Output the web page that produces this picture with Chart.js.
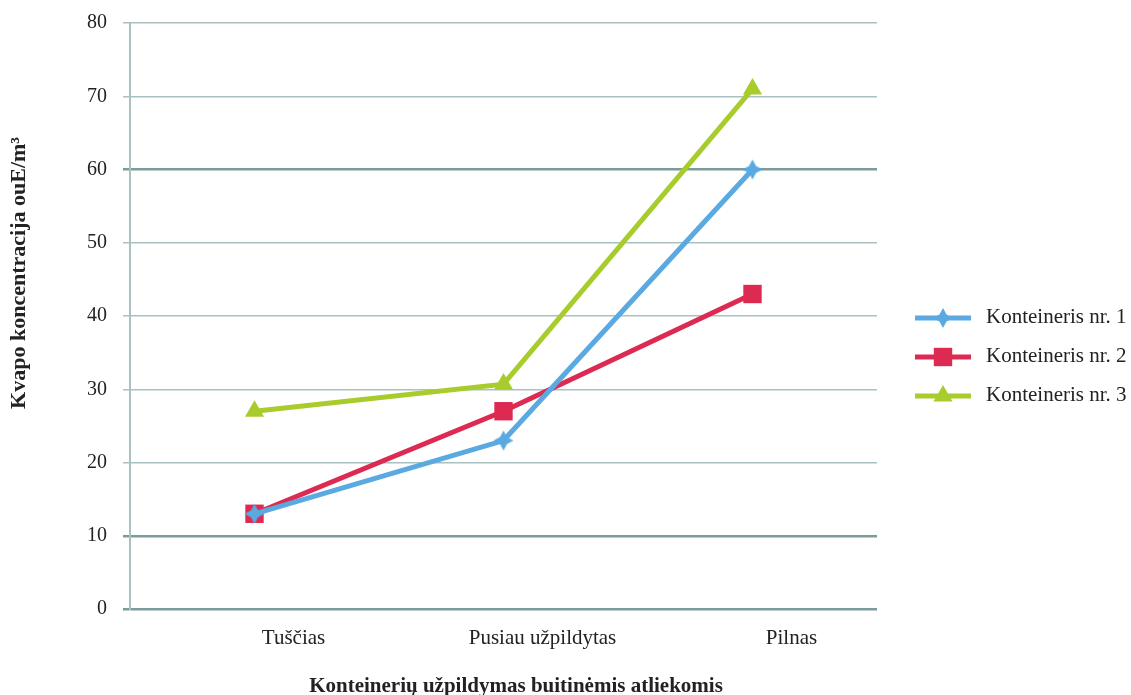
<!DOCTYPE html>
<html>
<head>
<meta charset="utf-8">
<script src="https://cdn.jsdelivr.net/npm/chart.js@4/dist/chart.umd.min.js"></script>
<style>
  html, body { margin: 0; padding: 0; background: #ffffff; }
  #wrap { width: 1131px; height: 695px; position: relative; }
</style>
</head>
<body>
<div id="wrap"><canvas id="c" width="1131" height="695"></canvas></div>
<script>
// Container fill level categories
const categories = ['Tuščias', 'Pusiau užpildytas', 'Pilnas'];

// Odour concentration (ouE/m³) per container
const konteineris1 = [13, 23, 60];
const konteineris2 = [13, 27, 43];
const konteineris3 = [27, 30.7, 71];

const seriesNames = ['Konteineris nr. 1', 'Konteineris nr. 2', 'Konteineris nr. 3'];
const yTicks = [0, 10, 20, 30, 40, 50, 60, 70, 80];

const xTitle = 'Konteinerių užpildymas buitinėmis atliekomis';
const yTitle = 'Kvapo koncentracija ouE/m³';

const BLUE = '#5aa9e1';
const RED = '#dd2a52';
const GREEN = '#a7cc2c';
const TEXT = '#222222';
const FONT = '"Liberation Serif", "Times New Roman", serif';

// four-pointed star marker for the first series
function starMarker(color, r, inner) {
  const c = document.createElement('canvas');
  const s = Math.ceil(r * 2 + 2);
  c.width = s; c.height = s;
  const g = c.getContext('2d');
  const cx = s / 2, cy = s / 2;
  g.fillStyle = color;
  g.beginPath();
  for (let i = 0; i < 8; i++) {
    const a = -Math.PI / 2 + i * Math.PI / 4;
    const rr = i % 2 === 0 ? r : inner;
    const x = cx + Math.cos(a) * rr, y = cy + Math.sin(a) * rr;
    if (i === 0) g.moveTo(x, y); else g.lineTo(x, y);
  }
  g.closePath();
  g.fill();
  return c;
}
const blueStar = starMarker(BLUE, 10, 5);

const darkGrid = '#7c9c9b';
const lightGrid = '#a9c1c0';

// axis titles placed freely around the plot
const axisTitles = {
  id: 'axisTitles',
  afterDraw(chart) {
    const ctx = chart.ctx;
    ctx.save();
    ctx.fillStyle = TEXT;
    ctx.font = 'bold 21px ' + FONT;
    ctx.textAlign = 'center';
    ctx.textBaseline = 'middle';
    ctx.fillText(xTitle, 516, 687);
    ctx.translate(19, 273);
    ctx.rotate(-Math.PI / 2);
    ctx.font = 'bold 22px ' + FONT;
    ctx.fillText(yTitle, 0, 0);
    ctx.restore();
  }
};

// legend drawn as line + marker, like the series
const sideLegend = {
  id: 'sideLegend',
  afterDraw(chart) {
    const ctx = chart.ctx;
    const x0 = 915, x1 = 971, tx = 986;
    const ys = [318, 357, 396];
    chart.data.datasets.forEach((ds, i) => {
      const y = ys[i];
      ctx.save();
      ctx.strokeStyle = ds.borderColor;
      ctx.lineWidth = 5;
      ctx.lineCap = 'butt';
      ctx.beginPath();
      ctx.moveTo(x0, y);
      ctx.lineTo(x1, y);
      ctx.stroke();
      ctx.fillStyle = ds.pointBackgroundColor;
      ctx.strokeStyle = ds.pointBorderColor;
      Chart.helpers.drawPoint(ctx, {
        pointStyle: ds.pointStyle,
        radius: ds.pointRadius,
        rotation: 0,
        borderWidth: 0
      }, (x0 + x1) / 2, y);
      ctx.fillStyle = TEXT;
      ctx.font = '21px ' + FONT;
      ctx.textBaseline = 'middle';
      ctx.textAlign = 'left';
      ctx.fillText(seriesNames[i], tx, y - 1);
      ctx.restore();
    });
  }
};

new Chart(document.getElementById('c'), {
  type: 'line',
  data: {
    labels: categories,
    datasets: [
      {
        label: seriesNames[0],
        data: konteineris1,
        borderColor: BLUE,
        borderWidth: 5,
        pointStyle: blueStar,
        pointRadius: 10,
        pointBackgroundColor: BLUE,
        pointBorderColor: BLUE,
        pointBorderWidth: 0,
        tension: 0
      },
      {
        label: seriesNames[1],
        data: konteineris2,
        borderColor: RED,
        borderWidth: 5,
        pointStyle: 'rect',
        pointRadius: 13,
        pointBackgroundColor: RED,
        pointBorderColor: RED,
        pointBorderWidth: 0,
        tension: 0
      },
      {
        label: seriesNames[2],
        data: konteineris3,
        borderColor: GREEN,
        borderWidth: 5,
        pointStyle: 'triangle',
        pointRadius: 11,
        pointBackgroundColor: GREEN,
        pointBorderColor: GREEN,
        pointBorderWidth: 0,
        tension: 0
      }
    ]
  },
  options: {
    responsive: false,
    animation: false,
    devicePixelRatio: 1,
    layout: { padding: { top: 23, right: 254, bottom: 0, left: 0 } },
    plugins: {
      legend: { display: false },
      tooltip: { enabled: false }
    },
    scales: {
      x: {
        offset: true,
        grid: { display: false },
        border: { display: false },
        ticks: {
          color: TEXT,
          font: { family: FONT, size: 21 },
          padding: 9,
          labelOffset: 39,
          maxRotation: 0
        },
        afterFit(scale) {
          scale.height = 86;
          scale.paddingLeft = 0; scale.paddingRight = 0;
        }
      },
      y: {
        min: 0,
        max: 80,
        afterBuildTicks(scale) { scale.ticks = yTicks.map(v => ({ value: v })); },
        grid: {
          color: ctx => ([0, 10, 60].includes(ctx.tick && ctx.tick.value) ? darkGrid : lightGrid),
          lineWidth: ctx => ([0, 10, 60].includes(ctx.tick && ctx.tick.value) ? 2.5 : 1.5),
          tickLength: 7,
          drawTicks: true
        },
        border: { display: true, color: lightGrid, width: 2 },
        ticks: {
          color: TEXT,
          font: { family: FONT, size: 20 },
          padding: 16
        },
        afterFit(scale) {
          scale.width = 130;
          scale.paddingTop = 0; scale.paddingBottom = 0;
        }
      }
    }
  },
  plugins: [sideLegend, axisTitles]
});
</script>
</body>
</html>
